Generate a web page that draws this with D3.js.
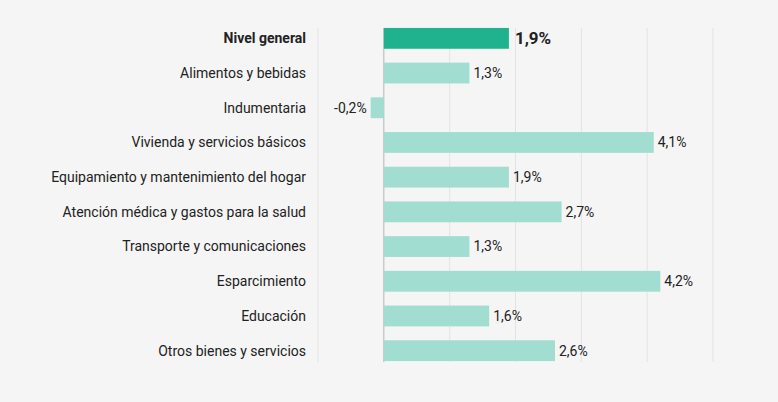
<!DOCTYPE html>
<html>
<head>
<meta charset="utf-8">
<script src="https://cdn.jsdelivr.net/npm/d3@7"></script>
<style>
  body { margin: 0; background: #f5f5f5; }
  text { font-family: Roboto, sans-serif; }
</style>
</head>
<body>
<script>
// Categories and values
var categories = ["Nivel general", "Alimentos y bebidas", "Indumentaria", "Vivienda y servicios básicos",
  "Equipamiento y mantenimiento del hogar", "Atención médica y gastos para la salud",
  "Transporte y comunicaciones", "Esparcimiento", "Educación", "Otros bienes y servicios"];
var values = [1.9, 1.3, -0.2, 4.1, 1.9, 2.7, 1.3, 4.2, 1.6, 2.6];
var gridTicks = [-1, 0, 1, 2, 3, 4, 5];

var svgWidth = 778, svgHeight = 402;

var svg = d3.select("body").append("svg")
    .attr("width", svgWidth)
    .attr("height", svgHeight);

var x = d3.scaleLinear().domain([-1, 5]).range([318, 713]);
var y = d3.scaleBand().domain(categories).range([21, 368]).paddingInner(0.4).paddingOuter(0.2);

// gridlines
svg.selectAll("line.grid").data(gridTicks).enter().append("line")
    .attr("x1", d => x(d)).attr("x2", d => x(d))
    .attr("y1", 28).attr("y2", 362)
    .attr("stroke", d => d === 0 ? "#b5b5b5" : "#e3e3e3")
    .attr("stroke-width", 1);

var data = categories.map((c, i) => ({cat: c, val: values[i], first: i === 0}));

svg.selectAll("rect.bar").data(data).enter().append("rect")
    .attr("x", d => x(Math.min(0, d.val)))
    .attr("y", d => y(d.cat))
    .attr("width", d => Math.abs(x(d.val) - x(0)))
    .attr("height", y.bandwidth())
    .attr("fill", d => d.first ? "#20b28f" : "#a2ddd1");

// category labels
svg.selectAll("text.cat").data(data).enter().append("text")
    .attr("x", 306)
    .attr("y", d => y(d.cat) + y.bandwidth() / 2)
    .attr("dy", "0.35em")
    .attr("text-anchor", "end")
    .style("font-size", "14px")
    .style("font-weight", d => d.first ? "bold" : "normal")
    .style("fill", "#222")
    .text(d => d.cat);

// value labels
svg.selectAll("text.val").data(data).enter().append("text")
    .attr("x", d => d.val < 0 ? x(d.val) - 4 : x(d.val) + (d.first ? 6 : 4))
    .attr("y", d => y(d.cat) + y.bandwidth() / 2)
    .attr("dy", "0.35em")
    .attr("text-anchor", d => d.val < 0 ? "end" : "start")
    .style("font-size", d => d.first ? "17px" : "14px")
    .style("font-weight", d => d.first ? "bold" : "normal")
    .style("fill", "#222")
    .text(d => String(d.val).replace(".", ",") + "%");
</script>
</body>
</html>
